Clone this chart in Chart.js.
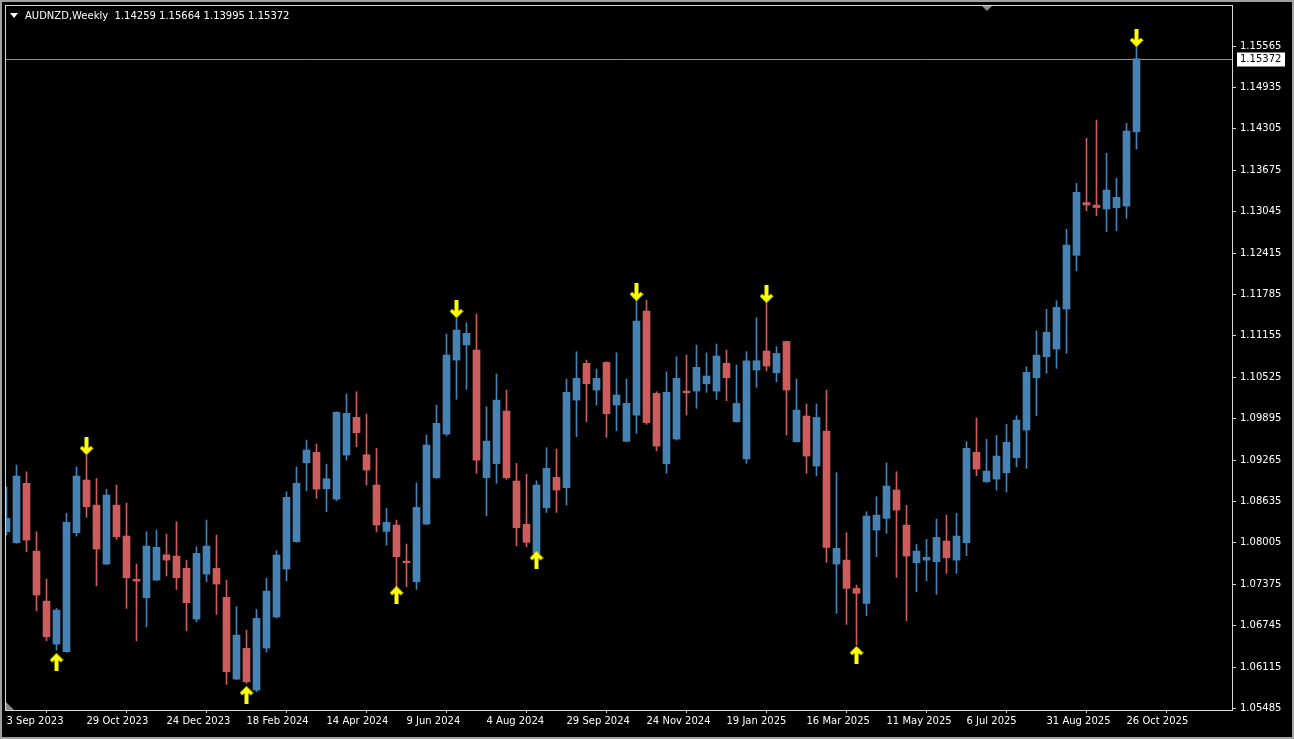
<!DOCTYPE html>
<html>
<head>
<meta charset="utf-8">
<title>AUDNZD Weekly</title>
<script src="https://cdn.jsdelivr.net/npm/chart.js@4.4.1/dist/chart.umd.min.js"></script>
<style>
  html, body { margin: 0; padding: 0; background: #000; }
  canvas { display: block; }
</style>
</head>
<body>
<canvas id="chart" width="1294" height="739"></canvas>
<script>
// AUDNZD weekly candles, bar 0 = week of 3 Sep 2023, last bar = week of 2 Nov 2025
const opens = [
  1.08173, 1.08006, 1.0891, 1.07879, 1.07118, 1.06464, 1.06347, 1.08158, 1.0896, 1.08579,
  1.07682, 1.08579, 1.08108, 1.07449, 1.07169, 1.07438, 1.07823, 1.07803, 1.07616, 1.06845,
  1.07529, 1.07616, 1.07175, 1.05931, 1.06399, 1.05764, 1.06403, 1.06875, 1.07605, 1.08021,
  1.09223, 1.09382, 1.08828, 1.08671, 1.0934, 1.09914, 1.09345, 1.08884, 1.08179, 1.08275,
  1.07727, 1.07412, 1.0829, 1.08995, 1.0966, 1.10786, 1.11015, 1.10938, 1.08995, 1.09211,
  1.1001, 1.08945, 1.08286, 1.07844, 1.08538, 1.09001, 1.08843, 1.10177, 1.10736, 1.1033,
  1.10751, 1.10101, 1.09549, 1.09949, 1.11532, 1.10279, 1.09208, 1.09584, 1.10314, 1.10314,
  1.10425, 1.10314, 1.10736, 1.09847, 1.0928, 1.10634, 1.10923, 1.10593, 1.1107, 1.09543,
  1.09934, 1.09173, 1.09706, 1.07682, 1.07742, 1.07312, 1.07083, 1.08199, 1.08377, 1.08808,
  1.08275, 1.07701, 1.07742, 1.07717, 1.08032, 1.07742, 1.08006, 1.09382, 1.08934, 1.08975,
  1.09071, 1.09299, 1.09721, 1.10517, 1.10836, 1.10954, 1.11562, 1.1238, 1.13183, 1.13145,
  1.13084, 1.13104, 1.1313, 1.14259
];
const highs = [
  1.08858, 1.09188, 1.09086, 1.08173, 1.07453, 1.07007, 1.08453, 1.09162, 1.0934, 1.08986,
  1.08818, 1.08884, 1.0861, 1.07682, 1.08173, 1.08199, 1.08138, 1.08325, 1.07742, 1.07945,
  1.08351, 1.08123, 1.07438, 1.07032, 1.06677, 1.06992, 1.07464, 1.07884, 1.08782, 1.09162,
  1.09569, 1.09508, 1.09203, 1.1, 1.10269, 1.10304, 1.09964, 1.09442, 1.08529, 1.08351,
  1.07986, 1.08919, 1.09645, 1.10101, 1.11182, 1.11421, 1.11354, 1.11486, 1.10076, 1.10573,
  1.1033, 1.09214, 1.09047, 1.08949, 1.09452, 1.09432, 1.10497, 1.10913, 1.10786, 1.10649,
  1.1076, 1.10897, 1.10497, 1.1173, 1.11699, 1.10304, 1.10608, 1.10836, 1.10862, 1.11014,
  1.10897, 1.1103, 1.10938, 1.1071, 1.10913, 1.1143, 1.11658, 1.10989, 1.11075, 1.10497,
  1.10117, 1.10117, 1.1033, 1.09071, 1.08158, 1.07362, 1.08478, 1.08706, 1.09223, 1.09086,
  1.08575, 1.07981, 1.08057, 1.08366, 1.08427, 1.08453, 1.09543, 1.09904, 1.09579, 1.0964,
  1.09808, 1.09939, 1.10684, 1.11232, 1.11558, 1.11689, 1.12775, 1.13475, 1.1416, 1.14439,
  1.13932, 1.13552, 1.14389, 1.15664
];
const lows = [
  1.08123, 1.07997, 1.07869, 1.06971, 1.06514, 1.06373, 1.0634, 1.08108, 1.08392, 1.07351,
  1.07675, 1.08057, 1.07007, 1.06514, 1.06727, 1.0743, 1.07499, 1.07296, 1.06666, 1.06804,
  1.07412, 1.06916, 1.05851, 1.05925, 1.05866, 1.05738, 1.06342, 1.0686, 1.07427, 1.08015,
  1.08797, 1.08681, 1.08478, 1.08645, 1.09264, 1.09467, 1.08884, 1.08173, 1.07971, 1.07316,
  1.07336, 1.07296, 1.08285, 1.08985, 1.09634, 1.10188, 1.1034, 1.09062, 1.08417, 1.0891,
  1.08971, 1.0796, 1.07945, 1.07835, 1.08468, 1.08468, 1.08579, 1.09619, 1.09847, 1.10101,
  1.0961, 1.0971, 1.09543, 1.09671, 1.09808, 1.09406, 1.09062, 1.09569, 1.09949, 1.10051,
  1.10295, 1.10188, 1.10167, 1.09842, 1.09214, 1.10371, 1.10623, 1.10456, 1.09645, 1.09538,
  1.09062, 1.09025, 1.07707, 1.06931, 1.06764, 1.06449, 1.06895, 1.07793, 1.08149, 1.07479,
  1.06819, 1.0726, 1.07427, 1.0722, 1.0754, 1.0754, 1.07808, 1.09025, 1.08925, 1.08808,
  1.08777, 1.09162, 1.09138, 1.09939, 1.10584, 1.1066, 1.10888, 1.12145, 1.13058, 1.12982,
  1.12739, 1.12754, 1.12943, 1.13995
];
const closes = [
  1.08377, 1.09021, 1.08047, 1.0721, 1.06575, 1.06981, 1.08316, 1.09021, 1.08554, 1.0791,
  1.08732, 1.08097, 1.07473, 1.07423, 1.07955, 1.07936, 1.07742, 1.07473, 1.07093, 1.07844,
  1.07955, 1.07377, 1.06043, 1.06601, 1.0589, 1.06855, 1.07271, 1.07819, 1.08697, 1.0891,
  1.09417, 1.08823, 1.0898, 1.0999, 1.09975, 1.0968, 1.09112, 1.08275, 1.08316, 1.07793,
  1.07701, 1.08544, 1.09493, 1.09823, 1.10862, 1.11243, 1.11193, 1.09264, 1.09553, 1.10177,
  1.08995, 1.08234, 1.08012, 1.08884, 1.09138, 1.08808, 1.10295, 1.10508, 1.10425, 1.10508,
  1.09969, 1.10254, 1.10127, 1.1138, 1.09832, 1.09477, 1.10295, 1.10508, 1.10289, 1.10675,
  1.10543, 1.10847, 1.10517, 1.10127, 1.10776, 1.10776, 1.10695, 1.10888, 1.1033, 1.10025,
  1.09325, 1.09914, 1.07936, 1.07921, 1.07312, 1.07236, 1.08412, 1.08427, 1.08869, 1.08503,
  1.07803, 1.07879, 1.07784, 1.08088, 1.07777, 1.08108, 1.09442, 1.09127, 1.09097, 1.09325,
  1.09534, 1.09873, 1.10599, 1.10862, 1.11208, 1.11588, 1.12536, 1.13338, 1.13145, 1.13107,
  1.13373, 1.13262, 1.14271, 1.15372
];

// time axis labels, one every 8 bars
const dateLabels = [
  '3 Sep 2023', '29 Oct 2023', '24 Dec 2023', '18 Feb 2024', '14 Apr 2024',
  '9 Jun 2024', '4 Aug 2024', '29 Sep 2024', '24 Nov 2024', '19 Jan 2025',
  '16 Mar 2025', '11 May 2025', '6 Jul 2025', '31 Aug 2025', '26 Oct 2025'
];
const labelStep = 8;

const priceTicks = [
  1.05485, 1.06115, 1.06745, 1.07375, 1.08005, 1.08635, 1.09265, 1.09895, 1.10525,
  1.11155, 1.11785, 1.12415, 1.13045, 1.13675, 1.14305, 1.14935, 1.15565
];

// fractal arrows
const upArrowBars = [5, 24, 39, 53, 85];
const upArrowPrices = [1.0619, 1.05688, 1.0721, 1.07742, 1.06297];
const downArrowBars = [8, 45, 63, 76, 113];
const downArrowPrices = [1.09477, 1.11562, 1.11821, 1.11791, 1.15687];

const symbolName = 'AUDNZD,Weekly';

const BULL = '#4682b4';
const BEAR = '#cd5c5c';
const FG = '#ffffff';
const FONT = { family: '"DejaVu Sans", sans-serif', size: 10 };

function candleColor(i) {
  return closes[i] >= opens[i] ? BULL : BEAR;
}

function makeArrow(up) {
  const c = document.createElement('canvas');
  c.width = 14;
  c.height = 18;
  const g = c.getContext('2d');
  g.translate(7, 9);
  if (!up) g.rotate(Math.PI);
  g.fillStyle = '#ffff00';
  g.strokeStyle = '#ffff00';
  g.fillRect(-2, -6, 4, 15);
  g.lineWidth = 3.5;
  g.lineJoin = 'miter';
  g.beginPath();
  g.moveTo(-5.5, -1);
  g.lineTo(0, -6.5);
  g.lineTo(5.5, -1);
  g.stroke();
  return c;
}

const last = closes.length - 1;

// black background, frame, bid line, header text
const mtFrame = {
  id: 'mtFrame',
  beforeDraw(chart) {
    const { ctx, width, height } = chart;
    ctx.save();
    ctx.fillStyle = '#000';
    ctx.fillRect(0, 0, width, height);
    ctx.strokeStyle = '#a0a0a0';
    ctx.lineWidth = 2;
    ctx.strokeRect(1, 1, width - 2, height - 2);
    ctx.restore();
  },
  beforeDatasetsDraw(chart) {
    const { ctx, chartArea: a, scales } = chart;
    const y = Math.round(scales.y.getPixelForValue(closes[last])) + 0.5;
    ctx.save();
    ctx.strokeStyle = '#8a949e';
    ctx.lineWidth = 1;
    ctx.beginPath();
    ctx.moveTo(a.left, y);
    ctx.lineTo(a.right, y);
    ctx.stroke();
    ctx.restore();
  },
  afterDraw(chart) {
    const { ctx, chartArea: a, scales } = chart;
    ctx.save();
    // plot frame
    ctx.strokeStyle = '#d8d8d8';
    ctx.lineWidth = 1;
    ctx.strokeRect(a.left + 0.5, a.top + 0.5, a.right - a.left, a.bottom - a.top);

    // current price label on the axis
    const y = Math.round(scales.y.getPixelForValue(closes[last])) + 0.5;
    ctx.fillStyle = '#ffffff';
    ctx.fillRect(a.right + 5, y - 7, 48, 14);
    ctx.fillStyle = '#000000';
    ctx.font = '10px "DejaVu Sans", sans-serif';
    ctx.textBaseline = 'middle';
    ctx.textAlign = 'left';
    ctx.fillText(closes[last].toFixed(5), a.right + 8, y);

    // header
    ctx.fillStyle = FG;
    ctx.beginPath();
    ctx.moveTo(a.left + 5, a.top + 8);
    ctx.lineTo(a.left + 13, a.top + 8);
    ctx.lineTo(a.left + 9, a.top + 13);
    ctx.closePath();
    ctx.fill();
    const ohlc = [opens[last], highs[last], lows[last], closes[last]].map(v => v.toFixed(5)).join(' ');
    ctx.fillText(symbolName + '  ' + ohlc, a.left + 20, a.top + 11);

    // chart shift marker
    ctx.fillStyle = '#8a8a8a';
    const sx = a.right - 245;
    ctx.beginPath();
    ctx.moveTo(sx - 5, a.top + 1);
    ctx.lineTo(sx + 5, a.top + 1);
    ctx.lineTo(sx, a.top + 6);
    ctx.closePath();
    ctx.fill();
    // bottom-left corner marker
    ctx.beginPath();
    ctx.moveTo(a.left + 1, a.bottom - 8);
    ctx.lineTo(a.left + 1, a.bottom);
    ctx.lineTo(a.left + 9, a.bottom);
    ctx.closePath();
    ctx.fill();
    ctx.restore();
  }
};

const ctx = document.getElementById('chart').getContext('2d');

new Chart(ctx, {
  type: 'bar',
  data: {
    datasets: [
      {
        label: 'arrows up',
        type: 'scatter',
        data: upArrowBars.map((b, k) => ({ x: b, y: upArrowPrices[k] })),
        pointStyle: makeArrow(true),
        pointRadius: 7,
        order: 0
      },
      {
        label: 'arrows down',
        type: 'scatter',
        data: downArrowBars.map((b, k) => ({ x: b, y: downArrowPrices[k] })),
        pointStyle: makeArrow(false),
        pointRadius: 7,
        order: 0
      },
      {
        label: 'body',
        data: opens.map((o, i) => ({ x: i, y: [o, closes[i]] })),
        backgroundColor: opens.map((o, i) => candleColor(i)),
        grouped: false,
        barPercentage: 1,
        categoryPercentage: 1,
        maxBarThickness: 7,
        minBarLength: 1,
        borderWidth: 0,
        order: 1
      },
      {
        label: 'wick',
        data: lows.map((l, i) => ({ x: i, y: [l, highs[i]] })),
        backgroundColor: lows.map((l, i) => candleColor(i)),
        grouped: false,
        barPercentage: 1,
        categoryPercentage: 1,
        maxBarThickness: 1,
        borderWidth: 0,
        order: 2
      }
    ]
  },
  options: {
    responsive: false,
    animation: false,
    devicePixelRatio: 1,
    layout: { autoPadding: false, padding: { left: 5, top: 5, right: 0, bottom: 0 } },
    plugins: {
      legend: { display: false },
      tooltip: { enabled: false }
    },
    scales: {
      x: {
        type: 'linear',
        min: -0.15,
        max: 122.55,
        offset: false,
        border: { display: false },
        grid: { display: true, drawOnChartArea: false, drawTicks: true, tickLength: 3, color: '#d8d8d8' },
        ticks: {
          color: FG,
          font: FONT,
          align: 'start',
          padding: 2,
          autoSkip: false,
          maxRotation: 0,
          callback: (value) => dateLabels[Math.round(value / labelStep)]
        },
        afterBuildTicks: (scale) => {
          scale.ticks = dateLabels.map((d, k) => ({ value: k * labelStep }));
        },
        afterFit: (scale) => {
          scale.height = 29;
          scale.paddingLeft = 0;
          scale.paddingRight = 0;
        }
      },
      y: {
        position: 'right',
        min: 1.05461,
        max: 1.16189,
        border: { display: false },
        grid: { display: true, drawOnChartArea: false, drawTicks: true, tickLength: 4, color: '#d8d8d8' },
        ticks: {
          color: FG,
          font: FONT,
          padding: 4,
          callback: (value) => Number(value).toFixed(5)
        },
        afterBuildTicks: (scale) => {
          scale.ticks = priceTicks.map(v => ({ value: v }));
        },
        afterFit: (scale) => {
          scale.width = 62;
          scale.paddingTop = 0;
          scale.paddingBottom = 0;
        }
      }
    }
  },
  plugins: [mtFrame]
});
</script>
</body>
</html>
